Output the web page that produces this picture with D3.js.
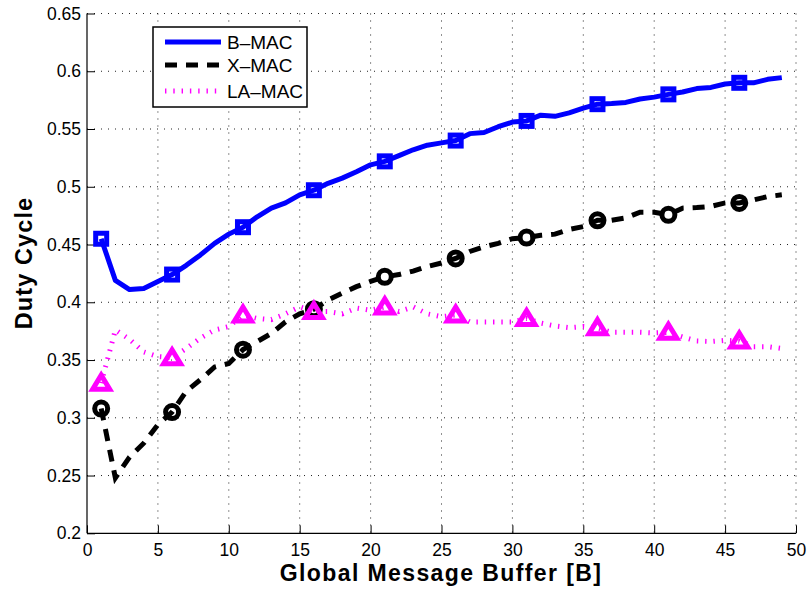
<!DOCTYPE html>
<html><head><meta charset="utf-8">
<script src="https://cdn.jsdelivr.net/npm/d3@7"></script>
<style>
html,body{margin:0;padding:0;background:#fff;}
svg{display:block;font-family:"Liberation Sans",Arial,Helvetica,sans-serif;}
</style></head>
<body><svg id="c" width="808" height="592"></svg>
<script>
const xValues = [1,2,3,4,5,6,7,8,9,10,11,12,13,14,15,16,17,18,19,20,21,22,23,24,25,26,27,28,29,30,31,32,33,34,35,36,37,38,39,40,41,42,43,44,45,46,47,48,49];
const markerX = [1,6,11,16,21,26,31,36,41,46];
const bmac = [0.455,0.419,0.411,0.412,0.418,0.424,0.432,0.441,0.451,0.459,0.465,0.474,0.4815,0.486,0.493,0.497,0.503,0.5075,0.513,0.519,0.522,0.527,0.532,0.536,0.538,0.540,0.546,0.547,0.552,0.556,0.557,0.562,0.561,0.564,0.568,0.5715,0.572,0.573,0.576,0.5776,0.580,0.582,0.585,0.586,0.589,0.590,0.590,0.593,0.5945];
const xmac = [0.308,0.248,0.266,0.278,0.294,0.305,0.323,0.333,0.344,0.347,0.359,0.366,0.373,0.383,0.390,0.394,0.402,0.408,0.4135,0.418,0.422,0.424,0.427,0.431,0.434,0.438,0.444,0.448,0.451,0.455,0.456,0.458,0.459,0.463,0.4655,0.471,0.471,0.473,0.478,0.478,0.4757,0.4815,0.482,0.483,0.486,0.486,0.4886,0.4915,0.493];
const lamac = [0.330,0.376,0.368,0.357,0.353,0.352,0.360,0.369,0.376,0.379,0.389,0.386,0.385,0.390,0.396,0.392,0.392,0.390,0.395,0.393,0.396,0.392,0.396,0.390,0.3875,0.389,0.383,0.383,0.383,0.383,0.386,0.382,0.3795,0.378,0.379,0.378,0.374,0.374,0.374,0.3735,0.374,0.370,0.3665,0.366,0.367,0.3665,0.3616,0.3616,0.360];
const xTicks = [0,5,10,15,20,25,30,35,40,45,50];
const yTicks = [0.2,0.25,0.3,0.35,0.4,0.45,0.5,0.55,0.6,0.65];
const seriesNames = ["B\u2013MAC","X\u2013MAC","LA\u2013MAC"];
const xLabel = "Global Message Buffer [B]";
const yLabel = "Duty Cycle";

const svg = d3.select("#c");
const L = 87, R = 796, T = 13.5, B = 533.3;
const x = d3.scaleLinear().domain([0,50]).range([L,R]);
const y = d3.scaleLinear().domain([0.2,0.65]).range([B,T]);

// grid
const g = svg.append("g");
g.selectAll(".vg").data(xTicks.filter(d=>d>0)).join("line")
  .attr("x1",d=>x(d)).attr("x2",d=>x(d)).attr("y1",T).attr("y2",B)
  .attr("stroke","#222").attr("stroke-width",1).attr("stroke-dasharray","1,6");
g.selectAll(".hg").data(yTicks.filter(d=>d>0.2)).join("line")
  .attr("x1",L).attr("x2",R).attr("y1",d=>y(d)).attr("y2",d=>y(d))
  .attr("stroke","#222").attr("stroke-width",1).attr("stroke-dasharray","1,6");

// axes
const xAxis = d3.axisBottom(x).tickValues(xTicks).tickSize(-8).tickPadding(10).tickFormat(d3.format("d"));
const yAxis = d3.axisLeft(y).tickValues(yTicks).tickSize(-8).tickPadding(6).tickFormat(d=>String(+d.toFixed(2)));
const ax = svg.append("g").attr("transform",`translate(0,${B})`).call(xAxis);
const ay = svg.append("g").attr("transform",`translate(${L},0)`).call(yAxis);
[ax,ay].forEach(a=>{
  a.select(".domain").attr("stroke","#000").attr("stroke-width",1.2);
  a.selectAll(".tick line").attr("stroke","#000").attr("stroke-width",1);
  a.selectAll("text").attr("font-size",17.5).attr("fill","#000").attr("font-family","Liberation Sans, Arial, sans-serif");
});
ax.select(".domain").attr("d",`M${L},0H${R}`);
ay.select(".domain").attr("d",`M0,${B}V${T}`);

svg.append("text").attr("x",441).attr("y",581).attr("text-anchor","middle")
  .attr("font-size",23).attr("font-weight","bold").attr("letter-spacing","1.4px").text(xLabel);
svg.append("text").attr("transform",`translate(31.5,263) rotate(-90)`).attr("text-anchor","middle")
  .attr("font-size",23.5).attr("font-weight","bold").attr("letter-spacing","1.1px").text(yLabel);

const line = d3.line().x((d,i)=>x(xValues[i])).y(d=>y(d));
svg.append("path").datum(bmac).attr("d",line).attr("fill","none").attr("stroke","#0000ff").attr("stroke-width",5).attr("stroke-linejoin","round");
svg.append("path").datum(xmac).attr("d",line).attr("fill","none").attr("stroke","#000").attr("stroke-width",5).attr("stroke-dasharray","12,9");
svg.append("path").datum(lamac).attr("d",line).attr("fill","none").attr("stroke","#ff00ff").attr("stroke-width",5).attr("stroke-dasharray","1.4,6.9");

const idx = markerX.map(v=>xValues.indexOf(v));
// squares
svg.selectAll(".sq").data(idx).join("rect")
  .attr("x",i=>x(xValues[i])-5.5).attr("y",i=>y(bmac[i])-5.5).attr("width",11).attr("height",11)
  .attr("fill","none").attr("stroke","#0000ff").attr("stroke-width",5);
// circles
svg.selectAll(".ci").data(idx).join("circle")
  .attr("cx",i=>x(xValues[i])).attr("cy",i=>y(xmac[i])).attr("r",6.5)
  .attr("fill","none").attr("stroke","#000").attr("stroke-width",5);
// triangles
const tri = (cx,cy)=>`M${cx},${cy-8}L${cx+8.5},${cy+6}L${cx-8.5},${cy+6}Z`;
svg.selectAll(".tr").data(idx).join("path")
  .attr("d",i=>tri(x(xValues[i]),y(lamac[i])))
  .attr("fill","none").attr("stroke","#ff00ff").attr("stroke-width",5).attr("stroke-linejoin","miter");

// legend
const lg = svg.append("g");
lg.append("rect").attr("x",153).attr("y",27).attr("width",154).attr("height",80)
  .attr("fill","#fff").attr("stroke","#000").attr("stroke-width",1.5);
const lgY = [42,65,91];
const styles = [
  {stroke:"#0000ff",dash:null},
  {stroke:"#000",dash:"12,9"},
  {stroke:"#ff00ff",dash:"1.4,6.9"}
];
seriesNames.forEach((n,i)=>{
  lg.append("line").attr("x1",165).attr("x2",221).attr("y1",lgY[i]).attr("y2",lgY[i])
    .attr("stroke",styles[i].stroke).attr("stroke-width",5).attr("stroke-dasharray",styles[i].dash);
  lg.append("text").attr("x",227).attr("y",lgY[i]+7).attr("font-size",19).text(n);
});
</script></body></html>
